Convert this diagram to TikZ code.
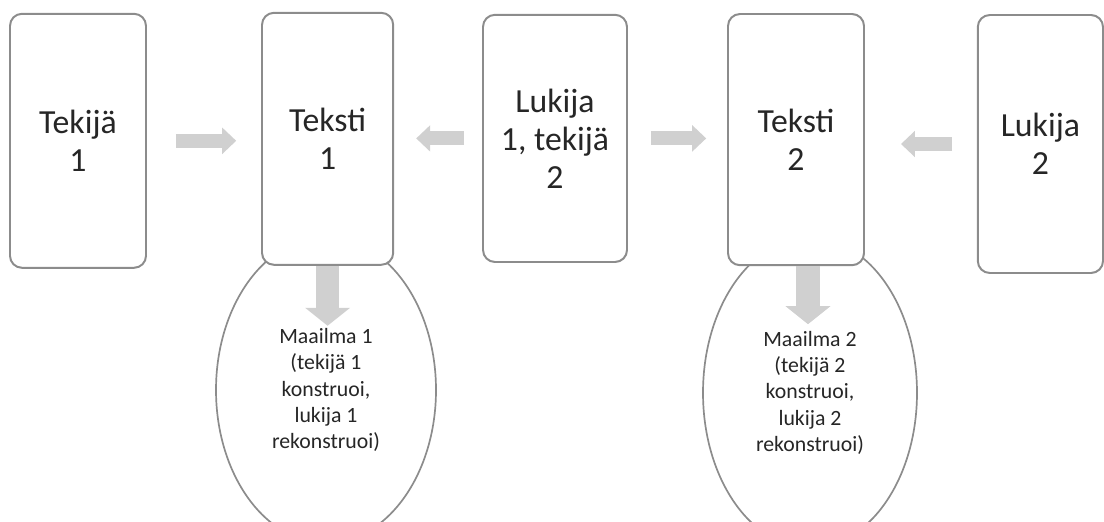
\documentclass[tikz,border=0pt]{standalone}
\usepackage{fontspec}
\setmainfont{Carlito}
\usepackage{tikz}
\usetikzlibrary{shapes,arrows,positioning,calc,arrows.meta}
\definecolor{edgegray}{HTML}{8C8C8C}
\definecolor{flowgray}{HTML}{D0D0D0}
\definecolor{textgray}{HTML}{262626}

\begin{document}
\begin{tikzpicture}[
    box/.style={draw=edgegray, line width=1.4pt, rounded corners=0.3cm, fill=white,
        align=center, font=\fontsize{24}{27}\selectfont, text=textgray},
    world/.style={draw=edgegray, line width=1.2pt, ellipse, fill=white, align=center,
        font=\fontsize{15.5}{18.6}\selectfont, text=textgray},
    flow/.style={draw=flowgray, line width=0.35cm, -{Triangle[length=0.35cm, width=0.64cm]}},
    drop/.style={draw=flowgray, line width=0.58cm, -{Triangle[length=0.45cm, width=1.1cm]}}
]
    \clip (0,0) rectangle (27.6,-13.05);

    % Worlds behind the texts
    \node [world, minimum width=5.5cm, minimum height=7.65cm] (w1) at (8.15,-9.75)
        {Maailma 1\\(tekijä 1\\konstruoi,\\lukija 1\\rekonstruoi)};
    \node [world, minimum width=5.35cm, minimum height=7.75cm] (w2) at (20.25,-9.82)
        {Maailma 2\\(tekijä 2\\konstruoi,\\lukija 2\\rekonstruoi)};

    % Chain of author, text and reader
    \node [box, minimum width=3.4cm, minimum height=6.35cm] (a1) at (1.95,-3.52) {Tekijä\\1};
    \node [box, minimum width=3.28cm, minimum height=6.3cm] (t1) at (8.19,-3.47) {Teksti\\1};
    \node [box, minimum width=3.6cm, minimum height=6.18cm] (r1) at (13.875,-3.46) {Lukija\\1, tekijä\\2};
    \node [box, minimum width=3.4cm, minimum height=6.28cm] (t2) at (19.9,-3.49) {Teksti\\2};
    \node [box, minimum width=3.13cm, minimum height=6.45cm] (r2) at (26.01,-3.6) {Lukija\\2};

    % Flow arrows
    \draw [flow] ([xshift=0.72cm]a1.east) -- ([xshift=-0.62cm]t1.west |- a1.east);
    \draw [flow] ([xshift=-0.45cm]r1.west) -- ([xshift=0.55cm]t1.east |- r1.west);
    \draw [flow] ([xshift=0.57cm]r1.east) -- ([xshift=-0.52cm]t2.west |- r1.east);
    \draw [flow] ([xshift=-0.62cm]r2.west) -- ([xshift=0.9cm]t2.east |- r2.west);
    \draw [drop] (t1.south) -- ([yshift=-1.5cm]t1.south);
    \draw [drop] ([xshift=0.3cm]t2.south) -- ([xshift=0.3cm,yshift=-1.45cm]t2.south);
\end{tikzpicture}
\end{document}
